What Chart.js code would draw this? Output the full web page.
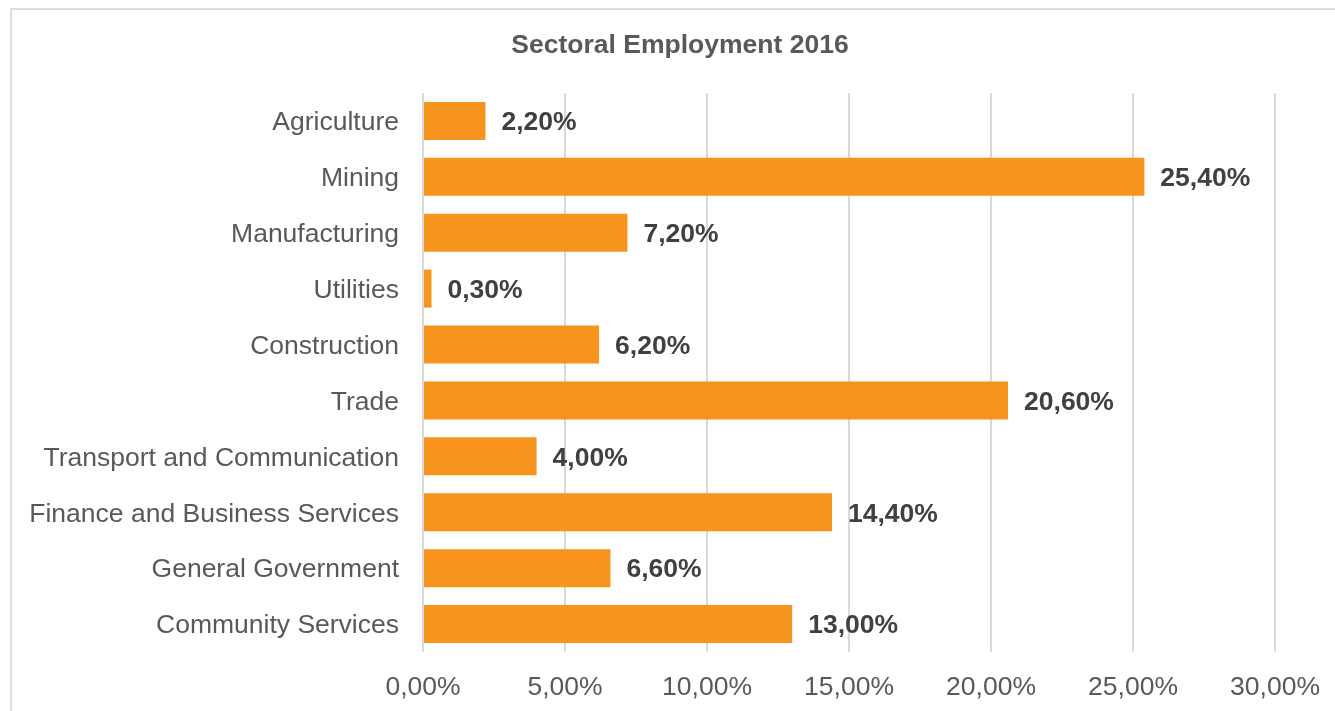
<!DOCTYPE html>
<html>
<head>
<meta charset="utf-8">
<title>Sectoral Employment 2016</title>
<script src="https://cdn.jsdelivr.net/npm/chart.js@4/dist/chart.umd.min.js"></script>
<style>
  html, body { margin: 0; padding: 0; background: #fff; overflow: hidden; }
  .frame {
    position: absolute; left: 10px; top: 8px;
    width: 1345px; height: 710px;
    border-left: 2px solid #dcdcdc; border-top: 2px solid #dcdcdc;
  }
  #sectorChart { display: block; }
</style>
</head>
<body>
<div class="frame">
  <canvas id="sectorChart" width="1336" height="701"></canvas>
</div>
<script>
// Share of total employment by sector, 2016 (percent)
const categories = [
  'Agriculture', 'Mining', 'Manufacturing', 'Utilities', 'Construction',
  'Trade', 'Transport and Communication', 'Finance and Business Services',
  'General Government', 'Community Services'
];
const shares = [2.2, 25.4, 7.2, 0.3, 6.2, 20.6, 4.0, 14.4, 6.6, 13.0];
const axisMin = 0, axisMax = 30, axisStep = 5;
const chartTitle = 'Sectoral Employment 2016';

const FONT = "'Liberation Sans', Arial, sans-serif";
const pct = v => v.toFixed(2).replace('.', ',') + '%';

// title centred on the whole canvas, not on the padded layout box
const centredTitle = {
  id: 'centredTitle',
  afterDraw(chart) {
    const ctx = chart.ctx;
    ctx.save();
    ctx.font = 'bold 26.5px ' + FONT;
    ctx.fillStyle = '#595959';
    ctx.textAlign = 'center';
    ctx.textBaseline = 'middle';
    ctx.fillText(chartTitle, chart.width / 2, 36);
    ctx.restore();
  }
};

// prints the value just past the end of each bar
const barValues = {
  id: 'barValues',
  afterDatasetsDraw(chart) {
    const ctx = chart.ctx;
    const meta = chart.getDatasetMeta(0);
    ctx.save();
    ctx.font = 'bold 26.5px ' + FONT;
    ctx.fillStyle = '#404040';
    ctx.textAlign = 'left';
    ctx.textBaseline = 'middle';
    meta.data.forEach((bar, i) => {
      ctx.fillText(pct(shares[i]), bar.x + 16, bar.y + 2);
    });
    ctx.restore();
  }
};

new Chart(document.getElementById('sectorChart'), {
  type: 'bar',
  data: {
    labels: categories,
    datasets: [{
      data: shares,
      backgroundColor: '#f7941e',
      borderWidth: 0,
      barPercentage: 0.68,
      categoryPercentage: 1
    }]
  },
  plugins: [barValues, centredTitle],
  options: {
    indexAxis: 'y',
    responsive: false,
    devicePixelRatio: 1,
    animation: false,
    layout: { padding: { left: 0, right: 73, top: 83, bottom: 0 } },
    plugins: {
      legend: { display: false },
      tooltip: { enabled: false },
      title: { display: false }
    },
    scales: {
      x: {
        min: axisMin,
        max: axisMax,
        border: { display: false },
        grid: { color: '#d9d9d9', lineWidth: 2, drawTicks: false },
        ticks: {
          stepSize: axisStep,
          padding: 20,
          color: '#595959',
          font: { family: FONT, size: 26.5 },
          callback: v => pct(v)
        },
        afterFit: scale => { scale.height = 59; }
      },
      y: {
        border: { display: false },
        grid: { display: false, drawTicks: false },
        ticks: {
          padding: 24,
          labelOffset: 2,
          color: '#595959',
          font: { family: FONT, size: 26.5 }
        },
        afterFit: scale => { scale.width = 411; }
      }
    }
  }
});
</script>
</body>
</html>
